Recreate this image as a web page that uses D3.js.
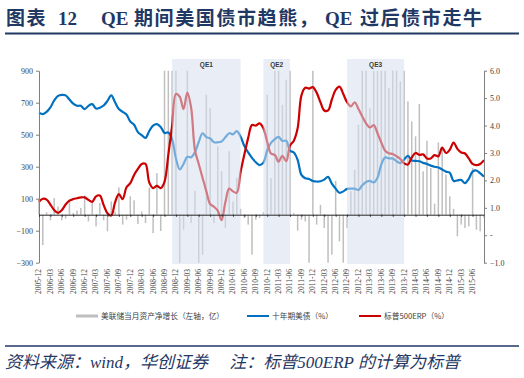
<!DOCTYPE html>
<html><head><meta charset="utf-8">
<script src="https://cdn.jsdelivr.net/npm/d3@7"></script>
<style>body{margin:0;background:#fff;} svg{display:block;}</style>
</head><body><svg id="c" width="524" height="378"></svg>
<script>
// ---------- data ----------
const startMonth = "2005-12", endMonth = "2015-09", lastLabelMonth = "2015-06";
const fedAssetChange = [100,-190,15,-35,104,52,-35,-25,94,10,
 25,42,121,-42,73,-73,73,-35,-104,83,
 20,171,-62,-31,115,90,-58,20,-52,170,
 -115,260,-102,1500,2800,1900,1300,-450,-94,1400,
 -52,150,-400,-250,750,667,-52,427,271,-83,
 396,83,229,37,-21,-62,-250,-31,-20,15,
 750,229,950,1000,687,844,1200,10,-100,-31,
 -42,-400,1100,-62,62,-83,-400,-250,212,-167,
 -400,-83,146,281,562,1000,1000,667,1000,1000,
 1000,1000,792,1000,1000,833,1000,708,583,490,
 692,271,462,292,69,452,419,250,115,37,
 -135,-62,-83,-73,292,-94,-104,-20];
const treasury10y = [4.47,4.42,4.5,4.66,4.92,5.08,5.12,5.1,4.95,4.8,
 4.72,4.72,4.6,4.72,4.78,4.62,4.65,4.73,4.9,5.1,
 4.85,4.6,4.5,4.4,4.15,4.03,3.76,3.65,3.55,3.8,
 4.0,4.05,3.95,3.73,3.75,3.5,2.8,2.4,2.6,2.86,
 2.84,3.03,3.4,3.72,3.58,3.53,3.39,3.39,3.42,3.57,
 3.72,3.68,3.8,3.6,3.25,3.02,2.82,2.66,2.56,2.65,
 3.1,3.37,3.5,3.59,3.44,3.45,3.08,3.02,2.75,2.2,
 2.08,2.05,1.98,1.96,1.97,2.03,2.13,1.88,1.7,1.55,
 1.6,1.69,1.7,1.7,1.65,1.82,1.94,1.98,1.93,2.1,
 2.58,2.84,2.8,2.8,2.7,2.63,2.76,2.9,2.73,2.71,
 2.7,2.64,2.6,2.54,2.5,2.47,2.4,2.32,2.28,1.98,
 2.0,2.02,1.9,2.06,2.32,2.36,2.26,2.14];
const sp500ERP = [1.22,1.33,1.3,1.12,0.92,0.82,0.92,1.12,1.26,1.32,
 1.35,1.38,1.38,1.29,1.22,1.42,1.45,1.1,0.8,0.72,
 1.2,1.5,1.32,1.75,1.9,2.2,2.42,2.6,2.6,1.92,
 1.72,1.8,1.72,1.95,2.93,4.0,5.15,5.05,4.6,5.2,
 4.65,3.1,2.6,2.1,1.6,1.14,1.04,0.9,0.55,1.2,
 1.7,1.6,1.55,2.3,2.95,3.55,4.02,4.0,4.08,3.9,
 3.4,2.98,2.93,2.68,2.9,2.7,3.27,3.45,3.9,5.1,
 5.38,5.35,5.4,5.2,4.85,4.55,4.55,4.95,5.3,5.42,
 5.15,4.85,4.7,4.85,4.6,4.33,4.08,3.93,4.02,3.72,
 3.38,3.08,2.99,2.96,2.88,2.78,2.62,2.58,2.83,3.0,
 2.93,2.95,2.8,2.8,2.92,2.88,3.2,3.0,3.12,3.38,
 3.15,3.02,2.98,2.8,2.6,2.56,2.6,2.74];
const qePeriods = [
  {label:"QE1", start:"2008-11", end:"2010-05"},
  {label:"QE2", start:"2010-11", end:"2011-06"},
  {label:"QE3", start:"2012-09", end:"2013-12"}
];
const leftTicks = [900,700,500,300,100,-100,-300];
const rightTicks = [6,5,4,3,2,1,0,-1];
const titleParts = [
  {t:"图表", x:6, latin:false},
  {t:"12", x:58, latin:true},
  {t:"QE", x:101, latin:true},
  {t:"期间美国债市趋熊，", x:134, latin:false},
  {t:"QE", x:325, latin:true},
  {t:"过后债市走牛", x:360, latin:false}
];
const legendItems = [
  {name:"美联储当月资产净增长（左轴，亿）", color:"#bfbfbf", w:3, x:76},
  {name:"十年期美债（%）", color:"#0070c0", w:2, x:247},
  {name:"标普500ERP（%）", color:"#cc0000", w:2, x:359}
];
const sourceText = "资料来源：wind，华创证券　 注：标普500ERP 的计算为标普";

// ---------- setup ----------
const parse = d3.timeParse("%Y-%m"), fmt = d3.timeFormat("%Y-%m");
const months = d3.timeMonth.range(parse(startMonth), d3.timeMonth.offset(parse(endMonth),1)).map(fmt);
const lastLabelIdx = months.indexOf(lastLabelMonth);
const tickMonths = months.filter((d,i)=>i%3===0 && i<=lastLabelIdx);

const svg = d3.select("#c");
const P = {l:39, r:484, t:70.7, b:262.7};
const x = d3.scalePoint().domain(months).range([P.l, P.r]);
const yL = d3.scaleLinear().domain([-300,900]).range([P.b, P.t]);
const yR = d3.scaleLinear().domain([-1,6]).range([P.b, P.t]);
const CJK = "'Noto Sans CJK SC', sans-serif";
const SERIF = "'Liberation Serif', 'Times New Roman', serif";

svg.append("defs").append("clipPath").attr("id","pc")
  .append("rect").attr("x",P.l-3).attr("y",P.t).attr("width",P.r-P.l+6).attr("height",P.b-P.t);

// title
const tt = svg.append("text").attr("y",25).attr("fill","#1f3864").attr("font-weight","bold");
titleParts.forEach(p=>{
  tt.append("tspan").attr("x",p.x).text(p.t)
    .attr("font-family", p.latin?SERIF:CJK)
    .attr("font-size", 19)
    .attr("letter-spacing", p.latin?0:1.6);
});
svg.append("line").attr("x1",5).attr("x2",519).attr("y1",33.5).attr("y2",33.5)
  .attr("stroke","#1f3864").attr("stroke-width",2);

// bars
svg.append("g").attr("clip-path","url(#pc)")
  .selectAll("rect").data(months.map((m,i)=>({m, v:fedAssetChange[i]})))
  .join("rect")
  .attr("x", d=>x(d.m)-0.75).attr("width",1.5)
  .attr("y", d=>yL(Math.max(0,d.v)))
  .attr("height", d=>Math.abs(yL(d.v)-yL(0)))
  .attr("fill","#bfbfbf");

// lines
const line = d3.line().x((d,i)=>x(months[i])).y(d=>yR(d)).curve(d3.curveCatmullRom.alpha(0.5));
svg.append("path").datum(treasury10y).attr("d",line).attr("fill","none")
  .attr("stroke","#0070c0").attr("stroke-width",2.2);
svg.append("path").datum(sp500ERP).attr("d",line).attr("fill","none")
  .attr("stroke","#cc0000").attr("stroke-width",2.2);

// QE bands overlay
const qg = svg.append("g");
qePeriods.forEach(q=>{
  const x0 = x(q.start), x1 = x(q.end);
  qg.append("rect").attr("x",x0).attr("y",59).attr("width",x1-x0).attr("height",205)
    .attr("fill","rgb(213,222,239)").attr("fill-opacity",0.55);
  qg.append("text").attr("x",(x0+x1)/2).attr("y",67).attr("text-anchor","middle")
    .attr("font-family","'Liberation Sans', Arial, sans-serif").attr("font-size",6.5)
    .attr("font-weight","bold").attr("fill","#3a3a3a").text(q.label);
});

// axes
const axL = svg.append("g").attr("transform",`translate(${P.l},0)`)
  .call(d3.axisLeft(yL).tickValues(leftTicks).tickSize(3).tickSizeOuter(0).tickPadding(3));
const axR = svg.append("g").attr("transform",`translate(${P.r},0)`)
  .call(d3.axisRight(yR).tickValues(rightTicks).tickSize(3).tickSizeOuter(0).tickPadding(3)
    .tickFormat(d=> d===0 ? "-" : d3.format(".1f")(d)));
[axL,axR].forEach(a=>{
  a.select(".domain").attr("stroke","#7f7f7f");
  a.selectAll(".tick line").attr("stroke","#7f7f7f");
  a.selectAll(".tick text").attr("font-family",SERIF).attr("font-size",8).attr("fill","#404040");
});
const axB = svg.append("g").attr("transform",`translate(0,${yL(0)})`)
  .call(d3.axisBottom(x).tickValues(tickMonths).tickSize(2).tickSizeOuter(0).tickFormat(""));
axB.select(".domain").attr("stroke","#262626");
axB.selectAll(".tick line").attr("stroke","#262626");

// x labels
svg.append("g").selectAll("text").data(tickMonths).join("text")
  .attr("transform", d=>`translate(${x(d)},269) rotate(-90)`)
  .attr("text-anchor","end").attr("dy","0.32em")
  .attr("font-family",SERIF).attr("font-size",7.5).attr("fill","#404040")
  .text(d=>d);

// legend
const lg = svg.append("g");
legendItems.forEach(it=>{
  lg.append("line").attr("x1",it.x).attr("x2",it.x+22).attr("y1",316).attr("y2",316)
    .attr("stroke",it.color).attr("stroke-width",it.w);
  lg.append("text").attr("x",it.x+25).attr("y",318.8).attr("font-family",CJK)
    .attr("font-size",7.7).attr("fill","#404040").text(it.name);
});

// footer
svg.append("line").attr("x1",5).attr("x2",519).attr("y1",346).attr("y2",346)
  .attr("stroke","#1f3864").attr("stroke-width",1.5);
svg.append("text").attr("x",5).attr("y",368).attr("font-style","italic")
  .attr("font-family","'Liberation Serif', 'Noto Sans CJK SC', serif").attr("font-size",17)
  .attr("fill","#1f3864").text(sourceText);
</script></body></html>
